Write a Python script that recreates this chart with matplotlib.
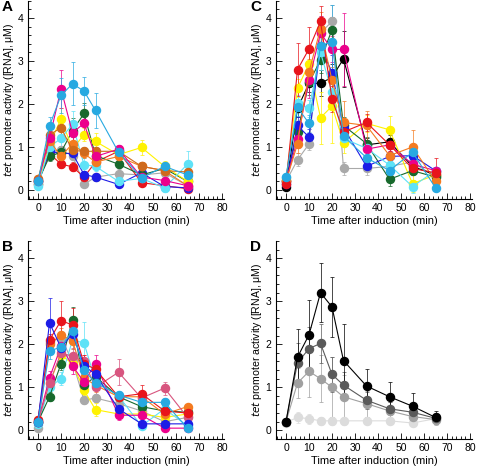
import numpy as np
import matplotlib
matplotlib.use("Agg")
import matplotlib.pyplot as plt
from matplotlib.ticker import MultipleLocator

plt.rcParams['font.family'] = ['Liberation Sans', 'DejaVu Sans']

# time points (min)
times = [0, 5, 10, 15, 20, 25, 35, 45, 55, 65]

colours = {
    'skyblue': '#27a9e1',
    'magenta': '#ec008c',
    'cyan': '#5ee2f7',
    'yellow': '#fff200',
    'green': '#17692c',
    'orange': '#f47b20',
    'brown': '#cf6a1c',
    'red': '#e8141b',
    'blue': '#1c1ce6',
    'gray': '#a9a9a9',
    'mauve': '#d8557f',
    'black': '#000000',
}

# panel A
a_mean = {
    'gray':    [0.20, 0.90, 0.92, 0.80, 0.13, 0.30, 0.38, 0.35, 0.40, 0.10],
    'red':     [0.20, 0.85, 0.60, 0.54, 0.30, 0.65, 0.90, 0.17, 0.10, 0.03],
    'blue':    [0.15, 0.90, 0.85, 0.85, 0.36, 0.30, 0.13, 0.40, 0.08, 0.05],
    'green':   [0.20, 0.78, 0.88, 1.38, 1.78, 0.80, 0.60, 0.35, 0.50, 0.20],
    'yellow':  [0.15, 1.05, 1.66, 0.95, 1.29, 1.13, 0.82, 0.99, 0.55, 0.20],
    'cyan':    [0.10, 1.00, 1.20, 1.53, 0.59, 0.55, 0.20, 0.27, 0.05, 0.60],
    'orange':  [0.25, 1.15, 0.78, 1.08, 0.85, 0.65, 0.78, 0.55, 0.45, 0.10],
    'brown':   [0.25, 1.28, 1.45, 0.92, 0.90, 0.90, 0.90, 0.55, 0.45, 0.42],
    'magenta': [0.20, 1.20, 2.35, 1.33, 1.55, 0.78, 0.95, 0.30, 0.22, 0.10],
    'skyblue': [0.20, 1.49, 2.20, 2.47, 2.30, 1.85, 0.88, 0.28, 0.55, 0.35],
}
a_err = {
    'gray':    [0.03, 0.10, 0.10, 0.10, 0.05, 0.08, 0.10, 0.08, 0.08, 0.05],
    'red':     [0.03, 0.10, 0.10, 0.10, 0.08, 0.08, 0.10, 0.05, 0.05, 0.03],
    'blue':    [0.03, 0.10, 0.10, 0.10, 0.08, 0.08, 0.05, 0.08, 0.05, 0.03],
    'green':   [0.03, 0.10, 0.15, 0.30, 0.25, 0.10, 0.10, 0.10, 0.10, 0.05],
    'yellow':  [0.03, 0.10, 0.25, 0.20, 0.15, 0.20, 0.10, 0.18, 0.12, 0.05],
    'cyan':    [0.02, 0.10, 0.20, 0.30, 0.15, 0.10, 0.10, 0.10, 0.10, 0.30],
    'orange':  [0.03, 0.10, 0.10, 0.15, 0.10, 0.10, 0.10, 0.10, 0.10, 0.05],
    'brown':   [0.03, 0.15, 0.20, 0.10, 0.10, 0.10, 0.10, 0.10, 0.10, 0.05],
    'magenta': [0.03, 0.15, 0.45, 0.20, 0.20, 0.10, 0.10, 0.10, 0.10, 0.05],
    'skyblue': [0.03, 0.20, 0.40, 0.50, 0.33, 0.40, 0.10, 0.10, 0.10, 0.30],
}

# panel B
b_mean = {
    'gray':    [0.05, 2.05, 2.15, 1.60, 0.70, 0.75, 0.62, 0.45, 0.20, 0.30],
    'yellow':  [0.20, 1.10, 1.75, 1.55, 0.93, 0.48, 0.38, 0.38, 0.30, 0.38],
    'cyan':    [0.15, 1.00, 1.20, 2.10, 2.03, 1.15, 0.80, 0.10, 0.50, 0.10],
    'green':   [0.20, 0.78, 1.55, 2.57, 1.05, 1.25, 0.78, 0.55, 0.45, 0.42],
    'orange':  [0.25, 2.00, 2.22, 2.08, 1.22, 1.05, 0.78, 0.78, 0.38, 0.55],
    'magenta': [0.20, 1.22, 1.95, 1.50, 1.12, 1.55, 0.35, 0.35, 0.05, 0.05],
    'mauve':   [0.20, 1.10, 1.80, 1.72, 1.60, 1.00, 1.35, 0.75, 0.98, 0.30],
    'red':     [0.25, 2.10, 2.55, 2.45, 1.55, 1.42, 0.78, 0.85, 0.45, 0.40],
    'blue':    [0.20, 2.50, 1.92, 2.25, 1.50, 1.30, 0.50, 0.15, 0.15, 0.15],
    'skyblue': [0.20, 1.85, 1.93, 2.32, 1.40, 1.10, 0.82, 0.65, 0.65, 0.05],
}
b_err = {
    'gray':    [0.03, 0.15, 0.15, 0.15, 0.10, 0.10, 0.10, 0.08, 0.05, 0.05],
    'yellow':  [0.03, 0.15, 0.15, 0.15, 0.10, 0.15, 0.10, 0.08, 0.05, 0.05],
    'cyan':    [0.03, 0.15, 0.15, 0.20, 0.50, 0.15, 0.10, 0.08, 0.10, 0.05],
    'green':   [0.03, 0.10, 0.15, 0.30, 0.15, 0.15, 0.10, 0.08, 0.10, 0.05],
    'orange':  [0.03, 0.15, 0.15, 0.20, 0.15, 0.15, 0.10, 0.10, 0.08, 0.05],
    'magenta': [0.03, 0.15, 0.15, 0.20, 0.15, 0.20, 0.10, 0.08, 0.05, 0.05],
    'mauve':   [0.03, 0.15, 0.15, 0.20, 0.15, 0.35, 0.30, 0.10, 0.15, 0.05],
    'red':     [0.03, 0.15, 0.45, 0.40, 0.20, 0.20, 0.10, 0.20, 0.10, 0.05],
    'blue':    [0.03, 0.58, 0.15, 0.20, 0.15, 0.15, 0.10, 0.05, 0.05, 0.05],
    'skyblue': [0.03, 0.20, 0.15, 0.20, 0.15, 0.15, 0.10, 0.10, 0.10, 0.05],
}

# panel C
c_mean = {
    'gray':    [0.20, 0.70, 1.07, 3.65, 3.92, 0.50, 0.50, 0.55, 0.65, 0.30],
    'black':   [0.08, 1.90, 2.48, 2.48, 2.62, 3.05, 1.05, 1.12, 0.55, 0.35],
    'yellow':  [0.25, 2.37, 2.93, 1.68, 1.95, 1.10, 1.55, 1.40, 0.15, 0.35],
    'green':   [0.20, 1.35, 2.50, 3.02, 3.73, 1.50, 1.08, 0.25, 0.45, 0.30],
    'blue':    [0.15, 1.50, 1.23, 3.35, 2.73, 1.45, 0.55, 0.78, 0.80, 0.45],
    'cyan':    [0.30, 2.02, 1.90, 3.20, 2.27, 1.20, 0.97, 0.58, 0.08, 0.45],
    'magenta': [0.20, 1.18, 2.55, 3.65, 3.27, 3.27, 0.95, 1.05, 0.60, 0.45],
    'orange':  [0.20, 1.07, 2.75, 3.75, 2.55, 1.57, 1.50, 0.80, 1.00, 0.20],
    'red':     [0.15, 2.80, 3.28, 3.92, 2.12, 1.35, 1.57, 1.05, 0.50, 0.40],
    'skyblue': [0.30, 1.92, 1.55, 3.35, 3.45, 1.25, 0.75, 0.45, 0.88, 0.05],
}
c_err = {
    'gray':    [0.03, 0.15, 0.15, 0.40, 0.38, 0.15, 0.15, 0.10, 0.10, 0.08],
    'black':   [0.03, 0.20, 0.20, 0.30, 0.30, 0.65, 0.15, 0.15, 0.10, 0.08],
    'yellow':  [0.03, 0.20, 0.30, 0.60, 0.85, 0.25, 0.20, 0.32, 0.20, 0.08],
    'green':   [0.03, 0.20, 0.30, 0.30, 0.30, 0.20, 0.15, 0.15, 0.10, 0.08],
    'blue':    [0.03, 0.20, 0.20, 0.40, 0.40, 0.20, 0.10, 0.10, 0.10, 0.08],
    'cyan':    [0.03, 0.20, 0.20, 0.40, 0.40, 0.20, 0.15, 0.10, 0.15, 0.08],
    'magenta': [0.03, 0.20, 0.40, 0.40, 0.30, 0.85, 0.15, 0.15, 0.10, 0.08],
    'orange':  [0.03, 0.20, 0.30, 0.40, 0.30, 0.50, 0.33, 0.20, 0.40, 0.08],
    'red':     [0.03, 0.62, 0.50, 0.35, 0.30, 0.20, 0.20, 0.15, 0.10, 0.35],
    'skyblue': [0.03, 0.20, 0.20, 0.40, 0.85, 0.20, 0.15, 0.10, 0.15, 0.08],
}

# panel D (grey levels)
d_mean = {
    '#dcdcdc': [0.18, 0.30, 0.27, 0.22, 0.22, 0.22, 0.22, 0.22, 0.17, 0.27],
    '#a0a0a0': [0.20, 1.10, 1.37, 1.20, 1.00, 0.78, 0.62, 0.45, 0.32, 0.25],
    '#5a5a5a': [0.20, 1.57, 1.90, 2.02, 1.30, 1.05, 0.70, 0.50, 0.42, 0.28],
    '#000000': [0.20, 1.70, 2.22, 3.20, 2.87, 1.62, 1.03, 0.78, 0.56, 0.30],
}
d_err = {
    '#dcdcdc': [0.05, 0.12, 0.12, 0.10, 0.10, 0.10, 0.08, 0.08, 0.08, 0.10],
    '#a0a0a0': [0.05, 0.35, 0.60, 0.55, 0.70, 0.50, 0.30, 0.20, 0.15, 0.12],
    '#5a5a5a': [0.05, 0.45, 0.50, 0.45, 0.40, 0.30, 0.20, 0.15, 0.12, 0.12],
    '#000000': [0.05, 0.65, 0.80, 0.68, 0.70, 0.85, 0.40, 0.35, 0.30, 0.15],
}

fig = plt.figure(figsize=(4.78, 4.69), dpi=100)

W, H = 478.0, 469.0
positions = {
    'A': (27.65, 198.6),
    'B': (27.65, 438.9),
    'C': (275.65, 198.6),
    'D': (275.65, 438.9),
}


def style_axes(ax, letter):
    ax.set_xlim(-4.5, 81)
    ax.set_ylim(-0.2, 4.4)
    for s in ('top', 'right'):
        ax.spines[s].set_visible(False)
    for s in ('left', 'bottom'):
        ax.spines[s].set_linewidth(0.8)
    ax.xaxis.set_major_locator(MultipleLocator(10))
    ax.xaxis.set_minor_locator(MultipleLocator(2))
    ax.yaxis.set_major_locator(MultipleLocator(1))
    ax.yaxis.set_minor_locator(MultipleLocator(0.2))
    ax.tick_params(which='both', direction='in', width=0.6, labelsize=7.5, pad=3)
    ax.tick_params(which='major', length=4)
    ax.tick_params(which='minor', length=2)
    ax.set_xlabel('Time after induction (min)', fontsize=8, labelpad=2)
    ax.set_ylabel(r'$\it{tet}$ promoter activity ([RNA], μM)', fontsize=7.6, labelpad=1)
    ax.text(-0.13, 1.005, letter, transform=ax.transAxes, fontsize=11,
            fontweight='bold', va='top', ha='left')


def draw(ax, means, errs, cmap):
    for key in means:
        c = cmap[key] if cmap else key
        ax.errorbar(times, means[key], yerr=errs[key], color=c, ecolor=c,
                    elinewidth=0.5, capsize=1.3, capthick=0.5, lw=0.8,
                    marker='o', ms=5.8, mec=c, mfc=c)


panels = [('A', a_mean, a_err, colours), ('B', b_mean, b_err, colours),
          ('C', c_mean, c_err, colours), ('D', d_mean, d_err, None)]
for letter, means, errs, cmap in panels:
    left, bot = positions[letter]
    ax = fig.add_axes([left / W, 1 - bot / H, 196.65 / W, 197.8 / H])
    draw(ax, means, errs, cmap)
    style_axes(ax, letter)

fig.savefig('out.png', dpi=100)
